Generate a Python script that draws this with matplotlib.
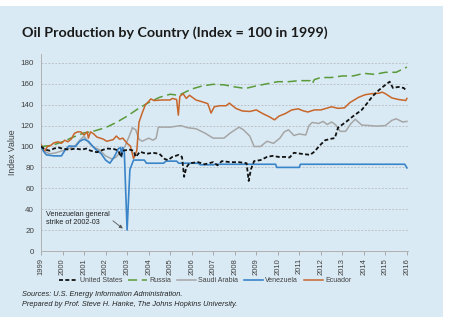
import matplotlib
matplotlib.use("Agg")
import matplotlib.pyplot as plt
from matplotlib.patches import Rectangle

# ---------------- data ----------------
us_x = [1999.0, 1999.2, 1999.4, 1999.6, 1999.8, 2000.0, 2000.3, 2000.6, 2000.9, 2001.1, 2001.3, 2001.6,
        2001.9, 2002.1, 2002.4, 2002.6, 2002.7, 2002.8, 2003.1, 2003.3, 2003.4, 2003.6, 2003.9, 2004.2,
        2004.5, 2004.75, 2004.9, 2005.1, 2005.4, 2005.55, 2005.65, 2005.75, 2005.9, 2006.3, 2006.6, 2007.0,
        2007.2, 2007.4, 2007.8, 2008.2, 2008.55, 2008.65, 2008.75, 2008.9, 2009.2, 2009.5, 2009.75, 2010.05,
        2010.35, 2010.55, 2010.75, 2011.1, 2011.5, 2011.7, 2011.95, 2012.2, 2012.5, 2012.65, 2012.8, 2013.0,
        2013.2, 2013.5, 2013.9, 2014.1, 2014.4, 2014.7, 2015.0, 2015.2, 2015.35, 2015.6, 2015.85, 2016.0]
us_y = [100, 97, 96, 98, 99, 98, 97, 98, 97, 98, 96, 94.5,
        97, 98, 97.5, 96, 90, 96, 97, 96, 90, 95, 93, 94,
        93, 88, 87, 90, 92, 90, 71, 80, 84, 85, 83, 85,
        82, 86, 85, 85, 84, 67, 78, 86, 87, 90, 91, 90,
        90, 89.5, 94, 93, 92, 95, 101, 106, 107.5, 108, 118, 121,
        124, 129, 135, 140, 148, 154, 159, 162, 156, 157, 156, 153]

ru_x = [1999.0, 1999.5, 2000.0, 2000.5, 2001.0, 2001.5, 2002.0, 2002.5, 2003.0, 2003.5, 2004.0, 2004.5,
        2005.0, 2005.4, 2005.7, 2006.0, 2006.5, 2007.0, 2007.5, 2008.0, 2008.5, 2009.0, 2009.5, 2010.0,
        2010.5, 2011.0, 2011.5, 2011.6, 2011.7, 2012.0, 2012.5, 2013.0, 2013.5, 2014.0, 2014.5, 2015.0,
        2015.5, 2016.0]
ru_y = [100, 101, 104.5, 109, 113, 115, 118, 123, 129, 136, 142, 147,
        150, 149, 152, 155, 158, 159.5, 159, 157, 155.5, 158, 160, 162,
        162, 163, 163, 160, 164, 166, 166, 167.5, 167.5, 170, 169, 171,
        171, 176]

sa_x = [1999.0, 1999.2, 1999.4, 1999.7, 2000.0, 2000.3, 2000.6, 2000.8, 2001.0, 2001.2, 2001.4, 2001.7,
        2002.0, 2002.3, 2002.5, 2002.7, 2002.9, 2003.1, 2003.25, 2003.4, 2003.55, 2003.7, 2003.9, 2004.0,
        2004.2, 2004.35, 2004.45, 2005.0, 2005.5, 2005.8, 2006.2, 2006.6, 2007.0, 2007.5, 2007.8, 2008.2,
        2008.4, 2008.7, 2008.9, 2009.2, 2009.5, 2009.8, 2010.1, 2010.3, 2010.5, 2010.75, 2011.0, 2011.3,
        2011.45, 2011.6, 2011.9, 2012.1, 2012.3, 2012.5, 2012.7, 2012.9, 2013.15, 2013.4, 2013.6, 2013.9,
        2014.3, 2014.6, 2015.0, 2015.3, 2015.5, 2015.8, 2016.0]
sa_y = [100, 95, 93, 94, 96, 98, 101, 106, 110, 104, 100, 97,
        91, 88, 90, 95, 100, 110, 118, 116, 107, 105, 107, 108,
        106, 108, 118.5, 118.5, 120, 118, 117, 113, 108, 108, 113, 118.5,
        116, 110, 100, 100, 105, 103, 108, 114, 116, 110.5, 112, 111,
        120, 123, 122, 124, 121, 123.5, 120.5, 114.5, 114.5, 122, 126, 120.5,
        120, 119.5, 120, 125, 126.5, 123.5, 124]

ve_x = [1999.0, 1999.1, 1999.25, 1999.6, 1999.95, 2000.1, 2000.3, 2000.6, 2000.8, 2001.0, 2001.2, 2001.5,
        2001.8, 2002.0, 2002.2, 2002.4, 2002.6, 2002.7, 2002.75, 2002.8, 2002.87, 2003.0, 2003.13, 2003.3,
        2003.8, 2003.9, 2004.7, 2004.8, 2005.3, 2005.4, 2006.3, 2006.4, 2007.0, 2007.1, 2009.9, 2009.95,
        2011.0, 2011.05, 2015.9, 2016.0]
ve_y = [100, 96, 92, 91, 91, 96, 100.5, 100, 105, 107, 105, 98,
        93, 87, 84, 90, 98, 99, 90, 99, 95, 20, 78, 87,
        87, 84, 84, 86, 86, 84, 84, 82.5, 82.5, 83, 83, 80,
        80, 83, 83, 79.5]

ec_x = [1999.0, 1999.15, 1999.3, 1999.45, 1999.6, 1999.8, 1999.95, 2000.1, 2000.25, 2000.4, 2000.55, 2000.7,
        2000.85, 2001.0, 2001.15, 2001.2, 2001.3, 2001.45, 2001.6, 2001.9, 2002.05, 2002.35, 2002.5, 2002.65,
        2002.8, 2003.0, 2003.15, 2003.3, 2003.45, 2003.55, 2003.7, 2003.85, 2004.0, 2004.1, 2004.25, 2004.6,
        2005.0, 2005.1, 2005.3, 2005.38, 2005.45, 2005.6, 2005.75, 2005.9, 2006.2, 2006.45, 2006.75, 2006.9,
        2007.05, 2007.3, 2007.6, 2007.75, 2008.05, 2008.35, 2008.7, 2009.0, 2009.3, 2009.6, 2009.85, 2010.05,
        2010.35, 2010.65, 2010.95, 2011.2, 2011.4, 2011.7, 2012.0, 2012.5, 2012.8, 2013.1, 2013.35, 2013.75,
        2014.05, 2014.35, 2014.7, 2014.85, 2015.0, 2015.3, 2015.6, 2015.95, 2016.0]
ec_y = [102, 95, 100, 101, 103.5, 104.5, 103, 106, 104.5, 107, 112.5, 114,
        114, 111, 114, 108, 114, 112, 109, 107, 105, 106.5, 110, 107,
        108, 103, 100.5, 88.5, 96, 123, 132, 140, 143, 145.5, 144, 144.5,
        144.5, 146, 145, 130, 148, 150.5, 146, 149, 144.5, 143, 141, 132,
        138, 139, 139, 141.5, 136.5, 134, 133.5, 135, 131.5, 128.5, 125.5, 129,
        131.5, 135, 136, 134, 133, 135, 135, 138, 136.5, 137, 142, 147,
        149.5, 150.5, 151, 152, 150.5, 146.5, 145, 144, 146]

years = list(range(1999, 2017))
yticks = list(range(0, 181, 20))
legend_labels = ["United States", "Russia", "Saudi Arabia", "Venezuela", "Ecuador"]

# ---------------- figure ----------------
W, H = 450, 325
fig = plt.figure(figsize=(W / 100, H / 100), dpi=100)
fig.patch.set_facecolor("white")
bg = "#d9eaf4"
rect = Rectangle((0, 8 / H), 443 / W, 1 - 14 / H, transform=fig.transFigure,
                 facecolor=bg, edgecolor="none", zorder=-10)
fig.add_artist(rect)

ax = fig.add_axes([41 / W, 1 - 251 / H, (408 - 41) / W, (251 - 54) / H])
ax.set_facecolor("none")
ax.set_xlim(1999, 2016.05)
ax.set_ylim(0, 188.5)

for v in yticks[1:]:
    ax.axhline(v, color="#b4b8bc", lw=0.55, ls=(0, (2.5, 2)), zorder=1)

ax.plot(us_x, us_y, color="#111111", lw=1.3, ls=(0, (2.2, 1.3)), label=legend_labels[0], zorder=5)
ax.plot(ru_x, ru_y, color="#5a9a3a", lw=1.1, ls=(0, (6, 3)), label=legend_labels[1], zorder=3)
ax.plot(sa_x, sa_y, color="#a6a6a6", lw=1.1, label=legend_labels[2], zorder=2)
ax.plot(ve_x, ve_y, color="#3a84c8", lw=1.2, label=legend_labels[3], zorder=4)
ax.plot(ec_x, ec_y, color="#c8662a", lw=1.1, label=legend_labels[4], zorder=3)

ax.set_xticks(years)
ax.set_xticklabels([str(y) for y in years], rotation=90, fontsize=5.5, color="#404040",
                   family="Liberation Sans")
ax.set_yticks(yticks)
ax.set_yticklabels([str(v) for v in yticks], fontsize=5.8, color="#404040", family="Liberation Sans")
ax.tick_params(axis="y", length=0, pad=5)
ax.tick_params(axis="x", length=3, width=0.6, color="#a0a0a0", pad=2)
for s in ["top", "right"]:
    ax.spines[s].set_visible(False)
ax.spines["left"].set_color("#b0b0b0")
ax.spines["left"].set_linewidth(0.7)
ax.spines["bottom"].set_color("#b0b0b0")
ax.spines["bottom"].set_linewidth(0.7)
ax.set_ylabel("Index Value", fontsize=6.3, color="#404040", family="Liberation Sans", labelpad=3)

ax.annotate("Venezuelan general\nstrike of 2002-03", xy=(2002.8, 21.5), xytext=(1999.25, 31),
            fontsize=5.2, color="#222222", family="Liberation Sans", linespacing=1.3, va="center",
            arrowprops=dict(arrowstyle="-|>", color="#555555", lw=0.6, mutation_scale=5,
                            shrinkA=0, shrinkB=0, relpos=(1.0, 0.5)))

fig.text(22 / W, 1 - 33 / H, "Oil Production by Country (Index = 100 in 1999)", fontsize=10.3,
         fontweight="bold", family="Lato", color="#1a1a1a", va="center", ha="left")

leg = fig.legend(loc="center", bbox_to_anchor=(205 / W, 1 - 281 / H), ncol=5, frameon=False,
                 handlelength=2.7, columnspacing=0.9, handletextpad=0.3,
                 prop={"family": "Liberation Sans", "size": 5})
for t in leg.get_texts():
    t.set_color("#404040")

fig.text(22 / W, 1 - 295 / H, "Sources: U.S. Energy Information Administration.", fontsize=5.3,
         style="italic", family="Liberation Sans", color="#222222", va="center")
fig.text(22 / W, 1 - 304 / H, "Prepared by Prof. Steve H. Hanke, The Johns Hopkins University.",
         fontsize=5.3, style="italic", family="Liberation Sans", color="#222222", va="center")

fig.savefig("out.png", dpi=100, facecolor=fig.get_facecolor())
